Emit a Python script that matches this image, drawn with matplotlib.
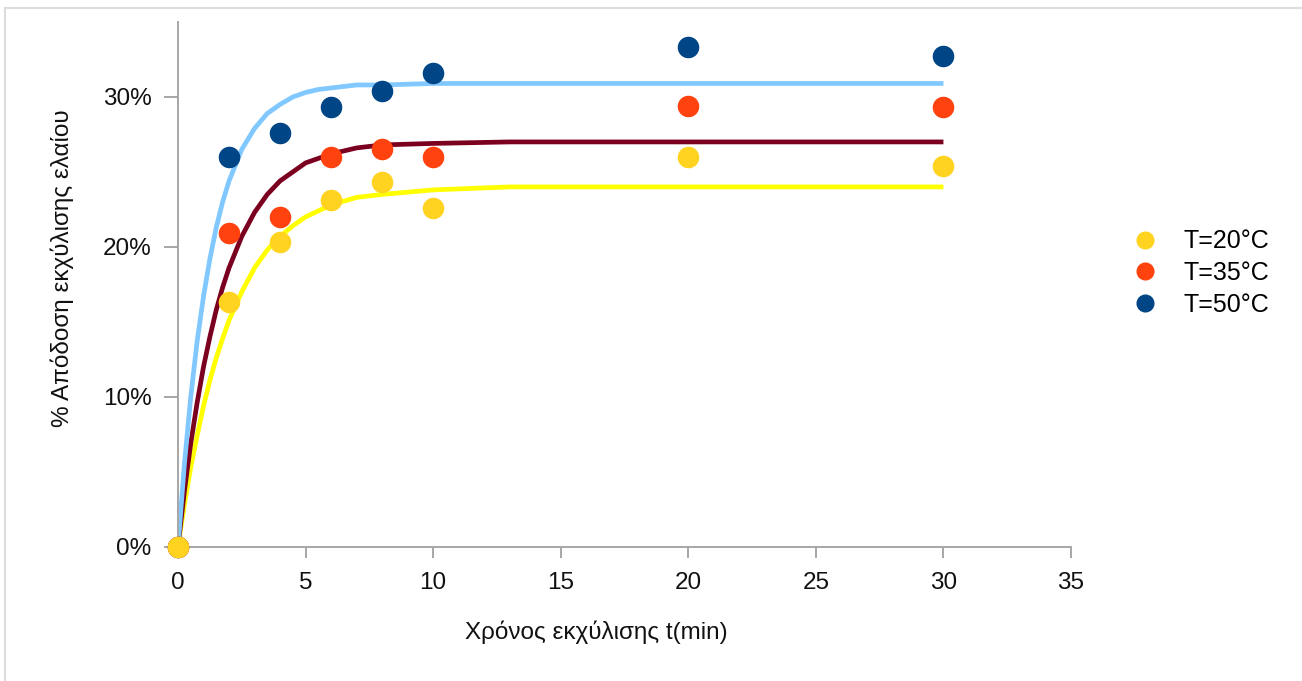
import matplotlib
matplotlib.use("Agg")
import matplotlib.pyplot as plt
from matplotlib.lines import Line2D
from matplotlib.ticker import FuncFormatter

plt.rcParams['font.family'] = ['Liberation Sans', 'DejaVu Sans']

# Measured extraction yield (%) at each sampling time (min)
t_meas = [0, 2, 4, 6, 8, 10, 20, 30]
y_20 = [0.0, 16.3, 20.3, 23.1, 24.3, 22.6, 26.0, 25.4]
y_35 = [0.0, 20.9, 22.0, 26.0, 26.5, 26.0, 29.4, 29.3]
y_50 = [0.0, 26.0, 27.6, 29.3, 30.4, 31.6, 33.3, 32.7]

# Fitted kinetic curves, read along the time axis
t_fit = [0, 0.25, 0.5, 0.75, 1, 1.25, 1.5, 1.75, 2, 2.5, 3, 3.5, 4, 4.5, 5, 5.5, 6, 7, 8,
         10, 13, 15, 20, 30]
fit_20 = [0.0, 2.8, 5.3, 7.4, 9.4, 11.1, 12.6, 13.9, 15.1, 17.0, 18.6, 19.8, 20.7, 21.4,
          22.0, 22.4, 22.8, 23.3, 23.5, 23.8, 24.0, 24.0, 24.0, 24.0]
fit_35 = [0.0, 3.7, 6.9, 9.6, 12.0, 14.0, 15.8, 17.3, 18.6, 20.7, 22.3, 23.5, 24.4, 25.0,
          25.6, 25.9, 26.2, 26.6, 26.8, 26.9, 27.0, 27.0, 27.0, 27.0]
fit_50 = [0.0, 5.5, 10.0, 13.7, 16.7, 19.2, 21.3, 23.0, 24.4, 26.5, 27.9, 28.9, 29.5, 30.0,
          30.3, 30.5, 30.6, 30.8, 30.8, 30.9, 30.9, 30.9, 30.9, 30.9]

labels = ['T=20°C', 'T=35°C', 'T=50°C']
marker_colors = ['#ffd320', '#ff420e', '#004586']
line_colors = ['#ffff00', '#7b0020', '#80c8ff']

W, H = 1302, 681
fig = plt.figure(figsize=(W / 100, H / 100), dpi=100)
ax = fig.add_axes([178 / W, 1 - 546.7 / H, (1071 - 178) / W, (546.7 - 22) / H])

for fit, lc in zip([fit_20, fit_35, fit_50], line_colors):
    ax.plot(t_fit, [v / 100 for v in fit], color=lc, lw=3.4, solid_capstyle='butt',
            solid_joinstyle='round', zorder=2)

# hotter series first so the 20°C dots sit on top where they overlap
for ys, mc, z in zip([y_20, y_35, y_50], marker_colors, [5, 4, 3]):
    ax.plot(t_meas, [v / 100 for v in ys], ls='none', marker='o', ms=14.5,
            mfc=mc, mec=mc, zorder=z, clip_on=False)

ax.set_xlim(0, 35)
ax.set_ylim(0, 0.35)
ax.set_xticks(range(0, 36, 5))
ax.set_yticks([0, 0.1, 0.2, 0.3])
ax.yaxis.set_major_formatter(FuncFormatter(lambda v, p: f"{v * 100:.0f}%"))

for side in ['top', 'right']:
    ax.spines[side].set_visible(False)
for side in ['left', 'bottom']:
    ax.spines[side].set_color('#a6a6a6')
    ax.spines[side].set_linewidth(1.4)
ax.tick_params(axis='both', colors='#a6a6a6', width=1.4, labelsize=17.5,
               labelcolor='#111111', direction='out')
ax.tick_params(axis='y', length=10, pad=9)
ax.tick_params(axis='x', length=8, pad=10)

fig.text(596 / W, 1 - 632 / H, 'Χρόνος εκχύλισης t(min)', ha='center', va='center',
         fontsize=17.5, color='#111111')
fig.text(62 / W, 1 - 268 / H, '% Απόδοση εκχύλισης ελαίου', ha='center', va='center',
         rotation=90, fontsize=17.5, color='#111111')

handles = [Line2D([], [], ls='none', marker='o', ms=12, mfc=c, mec=c) for c in marker_colors]
fig.legend(handles, labels, loc='center left', bbox_to_anchor=(1117 / W, 1 - 273 / H),
           frameon=False, fontsize=18, handletextpad=0.95, labelspacing=0.3,
           borderpad=0, handlelength=1.2)

# light frame along the top and left edges
fig.add_artist(Line2D([5 / W, 5 / W], [0, 1 - 8 / H], color='#dcdcdc', lw=1.5))
fig.add_artist(Line2D([5 / W, 1], [1 - 8 / H, 1 - 8 / H], color='#dcdcdc', lw=1.5))

fig.savefig('out.png', dpi=100, facecolor='white')
